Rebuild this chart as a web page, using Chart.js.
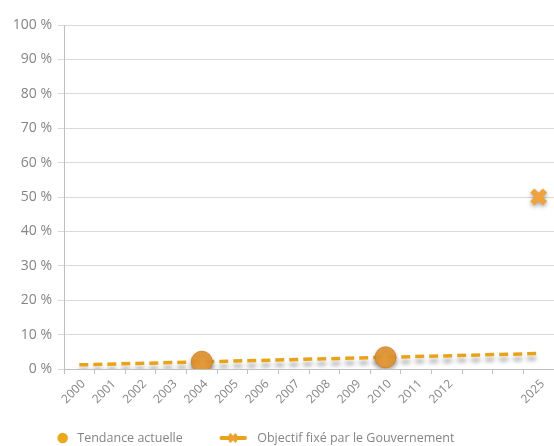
<!DOCTYPE html>
<html>
<head>
<meta charset="utf-8">
<script src="https://cdn.jsdelivr.net/npm/chart.js@4"></script>
<style>
  html, body { margin: 0; padding: 0; background: #ffffff; overflow: hidden; }
  #wrap { width: 554px; height: 446px; position: relative; }
</style>
</head>
<body>
<div id="wrap"><canvas id="c"></canvas></div>
<script>
// ---- data ----
const categories = ['2000','2001','2002','2003','2004','2005','2006','2007','2008','2009','2010','2011','2012','','','2025'];
const tendanceActuelle = [null,null,null,null,2.1,null,null,null,null,null,3.4,null,null,null,null,null];
const tendanceLigne = [1.2,null,null,null,null,null,null,null,null,null,null,null,null,null,null,4.5];
const objectifGouvernement = [null,null,null,null,null,null,null,null,null,null,null,null,null,null,null,50];
const yTicks = [0,10,20,30,40,50,60,70,80,90,100];

const ORANGE = '#E8A31B';
const GREY = '#858585';
const FONT = 'Open Sans';

// legend icons (drawn into 41px-wide legend boxes)
function makeCircleIcon() {
  const cv = document.createElement('canvas');
  cv.width = 41; cv.height = 12;
  const g = cv.getContext('2d');
  g.fillStyle = '#E8A91C';
  g.beginPath(); g.arc(32.6, 6, 5.3, 0, Math.PI * 2); g.fill();
  return cv;
}
function makeObjIcon() {
  const cv = document.createElement('canvas');
  cv.width = 41; cv.height = 12;
  const g = cv.getContext('2d');
  g.strokeStyle = ORANGE; g.lineWidth = 4; g.lineCap = 'round';
  g.beginPath(); g.moveTo(11.5, 6); g.lineTo(35, 6); g.stroke();
  g.strokeStyle = '#EBA233'; g.lineWidth = 3; g.lineCap = 'butt';
  g.beginPath(); g.moveTo(19.5, 2); g.lineTo(26.5, 10); g.moveTo(26.5, 2); g.lineTo(19.5, 10); g.stroke();
  return cv;
}
const circleIcon = makeCircleIcon();
const objIcon = makeObjIcon();

const shadowPlugin = {
  id: 'shadowPlugin',
  beforeDatasetDraw(chart, args) {
    const ds = chart.data.datasets[args.index];
    if (ds.shadow) {
      const ctx = chart.ctx;
      ctx.save();
      ctx.shadowColor = ds.shadow.color;
      ctx.shadowBlur = ds.shadow.blur;
      ctx.shadowOffsetX = ds.shadow.x;
      ctx.shadowOffsetY = ds.shadow.y;
    }
  },
  afterDatasetDraw(chart, args) {
    const ds = chart.data.datasets[args.index];
    if (ds.shadow) chart.ctx.restore();
  }
};

new Chart(document.getElementById('c'), {
  type: 'line',
  data: {
    labels: categories,
    datasets: [
      {
        label: 'Tendance actuelle (ligne)',
        data: tendanceLigne,
        spanGaps: true,
        borderColor: ORANGE,
        borderWidth: 3.5,
        borderDash: [9, 5],
        pointRadius: 0,
        fill: false,
        order: 3,
        shadow: { color: 'rgba(0,0,0,0.35)', blur: 4, x: 0, y: 5 }
      },
      {
        label: 'Tendance actuelle',
        data: tendanceActuelle,
        showLine: false,
        pointStyle: 'circle',
        pointRadius: 10.5,
        pointBackgroundColor: 'rgba(230,152,50,0.93)',
        pointBorderColor: 'rgba(205,130,45,0.9)',
        pointBorderWidth: 1,
        order: 1,
        shadow: { color: 'rgba(0,0,0,0.35)', blur: 5, x: 0, y: 3 }
      },
      {
        label: 'Objectif fixé par le Gouvernement',
        data: objectifGouvernement,
        showLine: false,
        pointStyle: 'crossRot',
        pointRadius: 9,
        pointBorderWidth: 6,
        pointBorderColor: '#F0A23E',
        pointBackgroundColor: '#F0A23E',
        order: 2,
        shadow: { color: 'rgba(0,0,0,0.35)', blur: 4, x: 0, y: 2 }
      }
    ]
  },
  options: {
    responsive: true,
    maintainAspectRatio: false,
    animation: false,
    layout: { autoPadding: false, padding: { top: 25, right: 0, left: 2.9, bottom: 0 } },
    plugins: {
      tooltip: { enabled: false },
      legend: {
        position: 'bottom',
        align: 'start',
        maxHeight: 41.4,
        labels: {
          usePointStyle: true,
          pointStyleWidth: 41,
          color: GREY,
          font: { family: FONT, size: 12.5 },
          padding: 27.15,
          generateLabels(chart) {
            return [
              { text: 'Tendance actuelle', pointStyle: circleIcon, fillStyle: '#E8A91C', strokeStyle: '#E8A91C', fontColor: GREY, lineWidth: 0, datasetIndex: 1 },
              { text: 'Objectif fixé par le Gouvernement', pointStyle: objIcon, fillStyle: ORANGE, strokeStyle: ORANGE, fontColor: GREY, lineWidth: 0, datasetIndex: 2 }
            ];
          }
        }
      }
    },
    scales: {
      x: {
        offset: true,
        afterFit(scale) { scale.height = 35.6; },
        grid: { drawOnChartArea: false, drawTicks: true, tickLength: 5, offset: true, color: '#BFBFBF' },
        border: { color: '#BFBFBF', width: 1 },
        ticks: {
          color: GREY,
          font: { family: FONT, size: 12 },
          maxRotation: 45,
          minRotation: 45,
          autoSkip: false,
          padding: 3,
          labelOffset: 4
        }
      },
      y: {
        min: 0,
        max: 100,
        afterFit(scale) { scale.width = 61.1; },
        afterBuildTicks(scale) { scale.ticks = yTicks.map(v => ({ value: v })); },
        grid: { color: '#D9D9D9', lineWidth: 1, drawTicks: true, tickLength: 6 },
        border: { color: '#BFBFBF', width: 1 },
        ticks: {
          color: GREY,
          font: { family: FONT, size: 14 },
          padding: 6,
          callback: v => v + ' %'
        }
      }
    }
  },
  plugins: [shadowPlugin]
});
</script>
</body>
</html>
